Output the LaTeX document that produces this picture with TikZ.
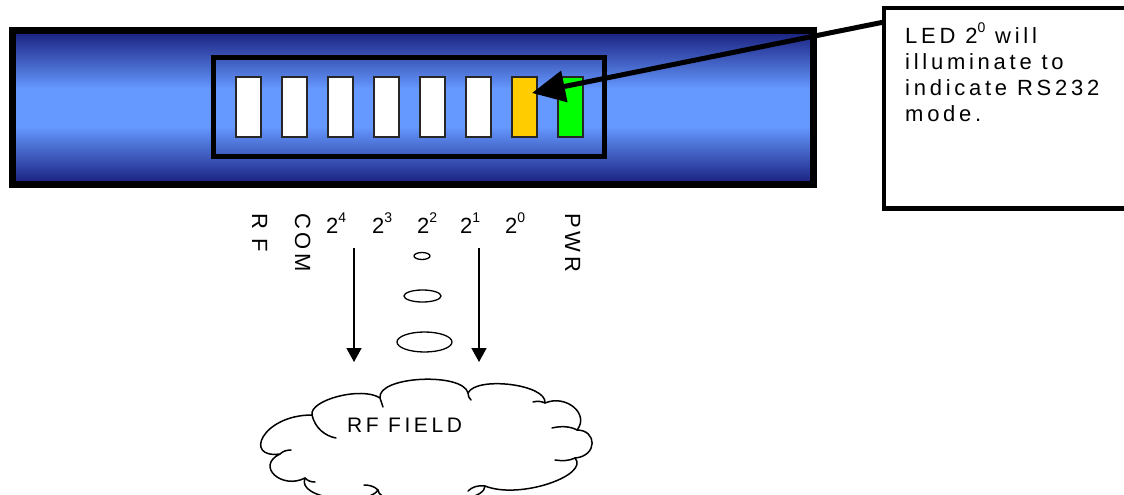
\documentclass[tikz,border=0pt]{standalone}
\usepackage{fontspec}
\setmainfont{Liberation Sans}[LetterSpace=17]
\usetikzlibrary{arrows.meta,shapes.geometric,calc}

\definecolor{navy}{RGB}{24,30,125}
\definecolor{skyb}{RGB}{102,153,255}
\definecolor{ledamber}{RGB}{255,204,0}
\definecolor{ledgreen}{RGB}{0,255,0}

% dark edges, light band in the middle of the housing
\pgfdeclareverticalshading{devshade}{100bp}{color(0bp)=(navy); color(25bp)=(navy); color(44bp)=(skyb); color(56bp)=(skyb); color(75bp)=(navy); color(100bp)=(navy)}

% power of two with a raised exponent
\newcommand\pw[1]{2\raisebox{11pt}{\fontsize{14}{14}\selectfont #1}}

\tikzset{
  device/.style={draw, line width=7pt, shading=devshade, minimum width=801pt, minimum height=154pt, inner sep=0pt, outer sep=0pt},
  panel/.style={draw, line width=5pt, minimum width=391pt, minimum height=99pt, inner sep=0pt, outer sep=0pt},
  led/.style={draw=black!85, line width=1.2pt, minimum width=25pt, minimum height=60pt, inner sep=0pt, outer sep=0pt},
  notebox/.style={draw, fill=white, line width=4.5pt, minimum width=256pt, minimum height=200.5pt, inner sep=0pt, outer sep=0pt},
  pointer/.style={line width=5pt, -{Triangle[length=33pt,width=31pt]}},
  drop/.style={line width=1.5pt, -{Triangle[length=14pt,width=15pt]}},
  ring/.style={ellipse, draw, line width=1.3pt, inner sep=0pt},
  lbl/.style={font=\fontsize{22}{26}\selectfont, inner sep=0pt},
  rot/.style={lbl, rotate=-90, anchor=base west},
  cloudline/.style={line width=1.5pt, line join=round, line cap=round},
}

\begin{document}
\begin{tikzpicture}[x=1pt, y=-1pt]
\useasboundingbox (0,0) rectangle (1124,495);
\clip (0,0) rectangle (1124,495);

% housing and LED panel
\node[device] (dev) at (413,107.5) {};
\node[panel] (panel) at (409,107) {};
\foreach \i/\c in {1/white,2/white,3/white,4/white,5/white,6/white,7/ledamber,8/ledgreen}
  \node[led, fill=\c] (led\i) at ({202.5+46*\i},107) {};

% callout
\node[notebox] (note) at (1012,108.25) {};
\node[lbl, anchor=north west, align=left] (notetext) at (905,22.3)
  {LED \pw{0} will\\illuminate to\\indicate RS232\\mode.};
\draw[pointer] ($(note.north west)+(0,14)$) -- ($(led7.east)+(-5,-14)$);

% LED legends
\node[rot] (lrf) at (252,213) {R F};
\node[rot] (lcom) at (295,213) {COM};
\node[rot] (lpwr) at (565,213) {PWR};
\node[lbl, anchor=base west] (p4) at (326,233) {\pw{4}};
\node[lbl, anchor=base west] (p3) at (372,233) {\pw{3}};
\node[lbl, anchor=base west] (p2) at (417,233) {\pw{2}};
\node[lbl, anchor=base west] (p1) at (460,233) {\pw{1}};
\node[lbl, anchor=base west] (p0) at (505,233) {\pw{0}};

% radio link
\coordinate (d4s) at (354,248);
\coordinate (d4e) at (354,362);
\coordinate (d1s) at (479,248);
\coordinate (d1e) at (479,362);
\draw[drop] (d4s) -- (d4e);
\draw[drop] (d1s) -- (d1e);
\node[ring, minimum width=16pt, minimum height=7pt] (w1) at (422,256) {};
\node[ring, minimum width=37pt, minimum height=12pt] (w2) at (422.5,296) {};
\node[ring, minimum width=55pt, minimum height=20pt] (w3) at (424.5,342) {};

% field: cloud outline, puff by puff
\draw[cloudline, fill=white]
  (280,454) .. controls (243,459) and (262,415) .. (312,415)
  .. controls (309,400) and (362,386) .. (380,398)
  .. controls (377,376) and (463,372) .. (468,393)
  .. controls (476,376) and (547,384) .. (545,403)
  .. controls (566,394) and (590,414) .. (577,430)
  .. controls (597,430) and (598,456) .. (575,458)
  .. controls (590,475) and (520,500) .. (485,486)
  .. controls (485,507) and (378,509) .. (378,490)
  .. controls (369,506) and (296,500) .. (305,478)
  .. controls (282,490) and (255,466) .. (280,454) -- cycle;
% creases where the puffs meet
\draw[cloudline] (312,415) .. controls (315,428) and (325,436) .. (336,438);
\draw[cloudline] (577,430) .. controls (570,426) and (560,426) .. (552,428);
\draw[cloudline] (545,403) .. controls (541,401) and (537,401) .. (533,402);
\draw[cloudline] (280,454) .. controls (283,451) and (287,450) .. (291,450);
\draw[cloudline] (575,458) .. controls (569,461) and (562,461) .. (555,460);
\draw[cloudline] (485,486) .. controls (478,485) and (472,487) .. (468,491);
\draw[cloudline] (378,490) .. controls (374,486) and (369,485) .. (364,485);
\draw[cloudline] (305,478) .. controls (308,481) and (311,482) .. (315,482);
\draw[cloudline] (380,398) .. controls (381,401) and (382,404) .. (383,407);
\draw[cloudline] (468,393) .. controls (468,396) and (469,398) .. (471,400);
\node[font=\fontsize{21}{21}\selectfont, anchor=base west, inner sep=0pt] (fieldtxt) at (347,432) {RF FIELD};
\end{tikzpicture}
\end{document}
